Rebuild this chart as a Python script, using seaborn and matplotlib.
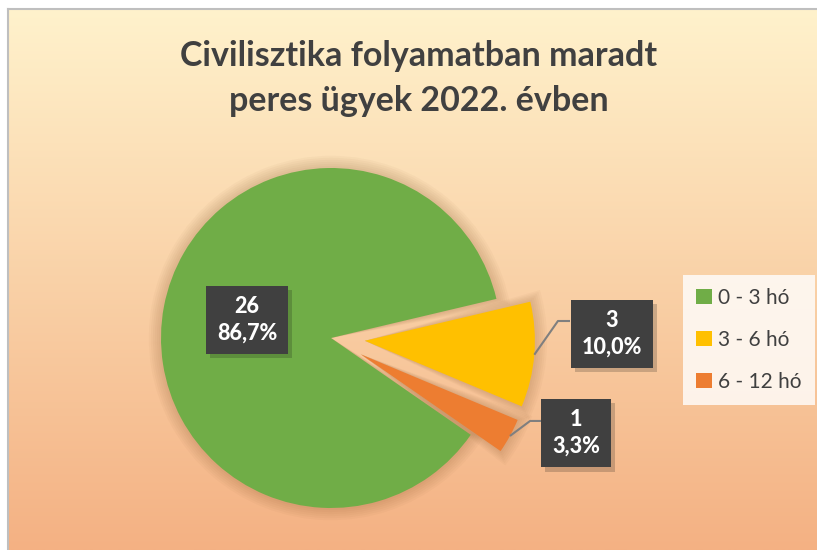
import numpy as np
import matplotlib
matplotlib.use("Agg")
import matplotlib.pyplot as plt
import matplotlib.patheffects as pe
from matplotlib.patches import Wedge
import seaborn as sns

# data
categories = ['0 - 3 hó', '3 - 6 hó', '6 - 12 hó']
counts = [26, 3, 1]
percent_labels = ['86,7%', '10,0%', '3,3%']
colors = ['#70AD47', '#FFC000', '#ED7D31']
title_lines = ['Civilisztika folyamatban maradt', 'peres ügyek 2022. évben']

sns.set_theme(style='white')
plt.rcParams['font.family'] = ['Lato', 'DejaVu Sans']

W, H = 817, 550
fig = plt.figure(figsize=(W / 100, H / 100), dpi=100)
fig.patch.set_facecolor('white')

# gradient background with grey border on top/left
bg = fig.add_axes([8 / W, 0, 1 - 8 / W, (H - 9) / H])
grad = np.linspace(0, 1, 256).reshape(-1, 1)
top = np.array(matplotlib.colors.to_rgb('#FFF2CC'))
bot = np.array(matplotlib.colors.to_rgb('#F4B183'))
img = top + (bot - top) * grad[..., None]
bg.imshow(img, aspect='auto', extent=[0, 1, 0, 1], origin='upper')
bg.set_xticks([])
bg.set_yticks([])
for side in ['right', 'bottom']:
    bg.spines[side].set_visible(False)
for side in ['top', 'left']:
    bg.spines[side].set_color('#BFBFBF')
    bg.spines[side].set_linewidth(1.5)

# pie axes: centre at (331, 338) px, radius 170 px
R = 170
span = 1.6
cx, cy = 331, H - 338
ax = fig.add_axes([(cx - R * span) / W, (cy - R * span) / H, 2 * R * span / W, 2 * R * span / H])

explode = [0, 0.2, 0.2]
wedges, _ = ax.pie(counts, colors=colors, startangle=-34.7, counterclock=False,
                   explode=explode, radius=1, wedgeprops=dict(linewidth=0, zorder=3))
ax.set_xlim(-span, span)
ax.set_ylim(-span, span)
ax.set_axis_off()

# soft shadow behind the slices
for w in wedges:
    for k in range(1, 7):
        grow = 0.012 * k
        ax.add_patch(Wedge(w.center, w.r + grow, w.theta1 - grow * 40, w.theta2 + grow * 40,
                           facecolor='#7a4a20', alpha=0.035, linewidth=0, zorder=1))

# label boxes
box_pos = [(-0.494, 0.106), (1.653, 0.024), (1.441, -0.559)]
elbows = [None, (1.335, 0.10, 1.406), (1.171, -0.488, 1.235)]
for i, w in enumerate(wedges):
    if elbows[i] is not None:
        mid = np.deg2rad((w.theta1 + w.theta2) / 2)
        ox, oy = w.center
        ex, ey, bx = elbows[i]
        ax.plot([ox + np.cos(mid), ex, bx], [oy + np.sin(mid), ey, ey],
                color='#7F7F7F', lw=1.5, solid_capstyle='butt', clip_on=False, zorder=4)
    t = ax.text(box_pos[i][0], box_pos[i][1], f'{counts[i]}\n{percent_labels[i]}',
                ha='center', va='center', color='white', fontsize=15.5, fontweight=900,
                linespacing=1.3, zorder=5,
                bbox=dict(boxstyle='square,pad=0.5', facecolor='#404040', linewidth=0))
    t.get_bbox_patch().set_path_effects([
        pe.SimplePatchShadow(offset=(3, -3), alpha=0.2), pe.Normal()])

# title
for j, line in enumerate(title_lines):
    fig.text(419 / W, 1 - (56 + 45 * j) / H, line, ha='center', va='center',
             fontsize=24.5, fontweight='bold', color='#404040')

# legend
leg = fig.legend(wedges, categories, loc='center', bbox_to_anchor=(749 / W, 1 - 340 / H),
                 frameon=True, fontsize=15, labelspacing=1.05, handlelength=0.75,
                 handleheight=0.75, handletextpad=0.3, borderpad=0.65, fancybox=False)
leg.get_frame().set_facecolor((1, 1, 1, 0.3))
leg.get_frame().set_linewidth(0)
for txt in leg.get_texts():
    txt.set_color('#404040')

fig.savefig('out.png', dpi=100)
